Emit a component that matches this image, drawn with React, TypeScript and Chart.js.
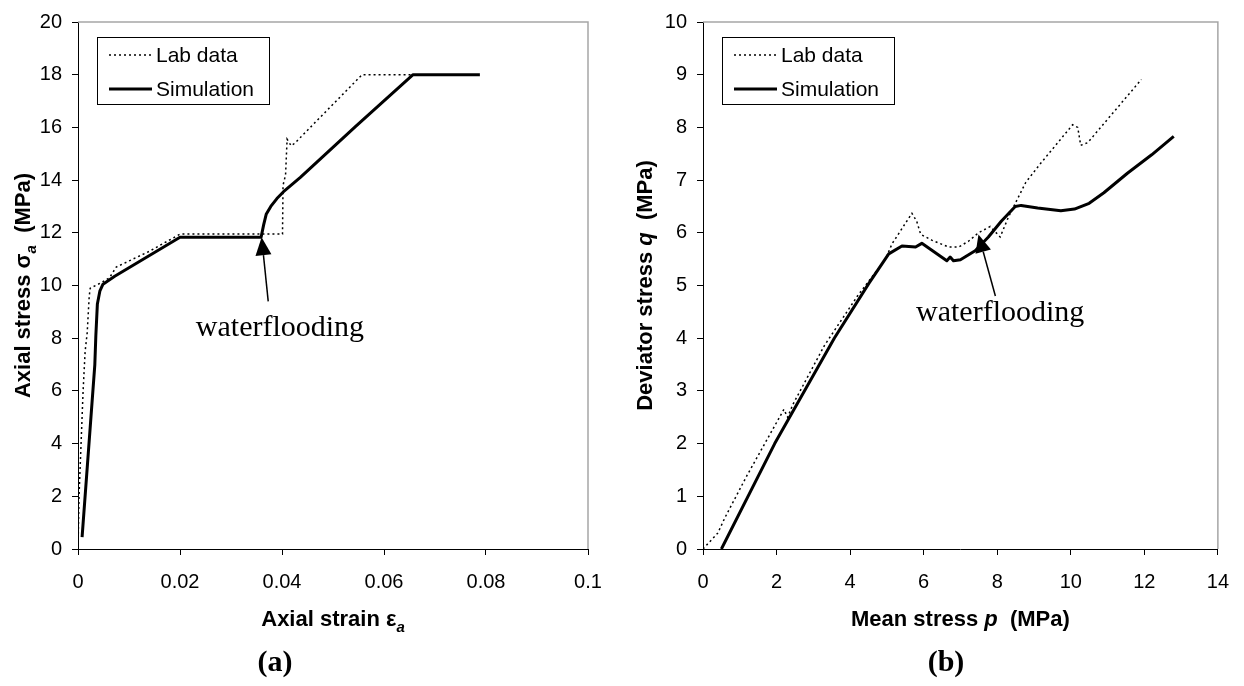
import { useEffect, useRef } from "react";
import { Chart, registerables } from "chart.js";

Chart.register(...registerables);

// ---------- Chart (a): axial stress vs axial strain ----------
const labStrainA = [0, 0.0002, 0.0006, 0.001, 0.0014, 0.0018, 0.0022, 0.0024, 0.0045, 0.0062, 0.0075, 0.014, 0.02, 0.0401, 0.0402, 0.0407, 0.041, 0.0418, 0.0425, 0.0557, 0.0657];
const labStressA = [0, 2, 4, 6, 7.5, 8.2, 9.6, 9.9, 10.1, 10.3, 10.7, 11.3, 11.95, 11.95, 13.8, 14.2, 15.55, 15.3, 15.4, 18, 18];
const simStrainA = [0.0008, 0.0033, 0.0035, 0.0038, 0.0043, 0.0049, 0.0072, 0.02, 0.0359, 0.0364, 0.0369, 0.0378, 0.039, 0.0403, 0.0436, 0.0545, 0.0657, 0.0788];
const simStressA = [0.45, 7.0, 8.1, 9.3, 9.8, 10.05, 10.35, 11.83, 11.83, 12.3, 12.7, 13.0, 13.3, 13.56, 14.1, 16.05, 18.0, 18.0];
const xTicksA = ["0", "0.02", "0.04", "0.06", "0.08", "0.1"];
const yTicksA = ["0", "2", "4", "6", "8", "10", "12", "14", "16", "18", "20"];

// ---------- Chart (b): deviator stress vs mean stress ----------
const labPB = [0, 0.4, 0.6, 1.2, 2.2, 2.3, 2.45, 3.3, 4.2, 4.96, 5.14, 5.68, 5.81, 5.92, 6.22, 6.68, 6.95, 7.22, 7.49, 7.81, 8.08, 8.3, 8.57, 8.78, 9.16, 10.05, 10.19, 10.27, 10.46, 11.92];
const labQB = [0, 0.3, 0.6, 1.4, 2.65, 2.5, 2.75, 3.86, 4.8, 5.5, 5.79, 6.37, 6.22, 5.97, 5.86, 5.73, 5.73, 5.84, 6.0, 6.12, 5.92, 6.29, 6.67, 6.96, 7.3, 8.05, 8.0, 7.66, 7.71, 8.91];
const simPB = [0.5, 1.95, 3.57, 4.51, 5.05, 5.41, 5.78, 5.95, 6.63, 6.72, 6.81, 7.0, 7.4, 7.76, 8.11, 8.49, 8.65, 9.1, 9.73, 10.1, 10.5, 10.9, 11.54, 12.2, 12.8];
const simQB = [0, 2.0, 4.0, 5.04, 5.6, 5.75, 5.73, 5.8, 5.47, 5.54, 5.47, 5.49, 5.66, 5.92, 6.22, 6.5, 6.52, 6.47, 6.42, 6.45, 6.56, 6.76, 7.13, 7.48, 7.83];
const xTicksB = ["0", "2", "4", "6", "8", "10", "12", "14"];
const yTicksB = ["0", "1", "2", "3", "4", "5", "6", "7", "8", "9", "10"];

const seriesLabels = ["Lab data", "Simulation"];
const annotationText = "waterflooding";

// annotation anchors in data units: [tipX, tipY, tailX, tailY, textX, textY]
const arrowA = [0.036, 11.83, 0.0373, 9.4, 0.0396, 8.39];
const arrowB = [7.49, 5.97, 7.95, 4.8, 8.08, 4.48];

type Seg = { t: string; italic?: boolean; sub?: boolean };
const xTitleA: Seg[] = [{ t: "Axial strain " }, { t: "ε" }, { t: "a", italic: true, sub: true }];
const yTitleA: Seg[] = [{ t: "Axial stress " }, { t: "σ" }, { t: "a", italic: true, sub: true }, { t: "  (MPa)" }];
const xTitleB: Seg[] = [{ t: "Mean stress " }, { t: "p", italic: true }, { t: "  (MPa)" }];
const yTitleB: Seg[] = [{ t: "Deviator stress " }, { t: "q", italic: true }, { t: "  (MPa)" }];

const SANS = '"Liberation Sans", Arial, sans-serif';
const SERIF = '"Liberation Serif", "Times New Roman", serif';

const zip = (xs: number[], ys: number[]) => xs.map((x, i) => ({ x, y: ys[i] }));

function segFont(s: Seg, size: number) {
  const sz = s.sub ? Math.round(size * 0.68) : size;
  return `${s.italic ? "italic " : ""}bold ${sz}px ${SANS}`;
}

function drawRich(ctx: CanvasRenderingContext2D, segs: Seg[], cx: number, cy: number, size: number, rotate: boolean) {
  ctx.save();
  ctx.translate(cx, cy);
  if (rotate) ctx.rotate(-Math.PI / 2);
  let total = 0;
  const widths = segs.map((s) => {
    ctx.font = segFont(s, size);
    const w = ctx.measureText(s.t).width;
    total += w;
    return w;
  });
  let x = -total / 2;
  ctx.fillStyle = "#000";
  ctx.textBaseline = "alphabetic";
  ctx.textAlign = "left";
  segs.forEach((s, i) => {
    ctx.font = segFont(s, size);
    ctx.fillText(s.t, x, size * 0.35 + (s.sub ? size * 0.28 : 0));
    x += widths[i];
  });
  ctx.restore();
}

const paperPlugin = {
  id: "paper",
  afterDraw(chart: any, _args: any, opts: any) {
    const { ctx, chartArea: a, scales } = chart;
    ctx.save();
    // grey top/right frame
    ctx.strokeStyle = "#a6a6a6";
    ctx.lineWidth = 1.5;
    ctx.beginPath();
    ctx.moveTo(a.left, a.top);
    ctx.lineTo(a.right, a.top);
    ctx.lineTo(a.right, a.bottom);
    ctx.stroke();

    // legend box
    const L = opts.legend;
    const lx = a.left + L.dx;
    const ly = a.top + L.dy;
    ctx.fillStyle = "#fff";
    ctx.fillRect(lx, ly, L.w, L.h);
    ctx.strokeStyle = "#000";
    ctx.lineWidth = 1;
    ctx.strokeRect(lx + 0.5, ly + 0.5, L.w, L.h);
    chart.data.datasets.forEach((ds: any, i: number) => {
      const y = ly + L.rows[i];
      ctx.setLineDash(ds.borderDash || []);
      ctx.lineWidth = ds.borderWidth;
      ctx.strokeStyle = "#000";
      ctx.beginPath();
      ctx.moveTo(lx + L.lineStart, y);
      ctx.lineTo(lx + L.lineEnd, y);
      ctx.stroke();
      ctx.setLineDash([]);
      ctx.fillStyle = "#000";
      ctx.font = `${L.fontSize}px ${SANS}`;
      ctx.textBaseline = "middle";
      ctx.textAlign = "left";
      ctx.fillText(ds.label, lx + L.textX, y + 1);
    });

    // annotation arrow
    const [tx, ty, bx, by, wx, wy] = opts.arrow;
    const X = scales.x, Y = scales.y;
    const px = X.getPixelForValue(tx), py = Y.getPixelForValue(ty);
    const qx = X.getPixelForValue(bx), qy = Y.getPixelForValue(by);
    const ang = Math.atan2(py - qy, px - qx);
    const headLen = 18, headW = 8;
    const hx = px - headLen * Math.cos(ang), hy = py - headLen * Math.sin(ang);
    ctx.strokeStyle = "#000";
    ctx.lineWidth = 1.5;
    ctx.beginPath();
    ctx.moveTo(qx, qy);
    ctx.lineTo(hx, hy);
    ctx.stroke();
    ctx.fillStyle = "#000";
    ctx.beginPath();
    ctx.moveTo(px, py);
    ctx.lineTo(hx + headW * Math.sin(ang), hy - headW * Math.cos(ang));
    ctx.lineTo(hx - headW * Math.sin(ang), hy + headW * Math.cos(ang));
    ctx.closePath();
    ctx.fill();
    ctx.font = `30px ${SERIF}`;
    ctx.textAlign = "center";
    ctx.textBaseline = "middle";
    ctx.fillText(annotationText, X.getPixelForValue(wx), Y.getPixelForValue(wy));

    // axis titles
    drawRich(ctx, opts.xTitle, (a.left + a.right) / 2, opts.xTitleY, 22, false);
    drawRich(ctx, opts.yTitle, opts.yTitleX, (a.top + a.bottom) / 2, 22, true);

    // caption
    ctx.font = `bold 30px ${SERIF}`;
    ctx.textAlign = "center";
    ctx.textBaseline = "middle";
    ctx.fillStyle = "#000";
    ctx.fillText(opts.caption, opts.captionX, opts.captionY);
    ctx.restore();
  },
};

function makeConfig(p: {
  lab: { x: number; y: number }[];
  sim: { x: number; y: number }[];
  xMax: number; xStep: number; xLabels: string[];
  yMax: number; yStep: number; yLabels: string[];
  yAxisWidth: number; padRight: number;
  xTitle: Seg[]; yTitle: Seg[]; yTitleX: number;
  arrow: number[]; caption: string; captionX: number;
}) {
  return {
    type: "scatter" as const,
    data: {
      datasets: [
        { label: seriesLabels[0], data: p.lab, showLine: true, borderColor: "#000", borderWidth: 1.5, borderDash: [2, 3], pointRadius: 0, tension: 0 },
        { label: seriesLabels[1], data: p.sim, showLine: true, borderColor: "#000", borderWidth: 3, pointRadius: 0, tension: 0, borderJoinStyle: "round" as const },
      ],
    },
    options: {
      animation: false as const,
      responsive: false,
      devicePixelRatio: 1,
      layout: { padding: { top: 15, right: p.padRight, left: 0, bottom: 0 } },
      plugins: {
        legend: { display: false },
        tooltip: { enabled: false },
        paper: {
          legend: { dx: 19, dy: 15, w: 172, h: 67, rows: [18, 52], lineStart: 12, lineEnd: 55, textX: 59, fontSize: 21 },
          arrow: p.arrow,
          xTitle: p.xTitle,
          yTitle: p.yTitle,
          xTitleY: 618,
          yTitleX: p.yTitleX,
          caption: p.caption,
          captionX: p.captionX,
          captionY: 663,
        },
      },
      scales: {
        x: {
          type: "linear" as const,
          min: 0,
          max: p.xMax,
          afterFit: (s: any) => { s.height = 137; },
          border: { display: true, color: "#000", width: 1 },
          grid: { display: true, drawOnChartArea: false, drawTicks: true, tickLength: 6, color: "#000" },
          ticks: {
            stepSize: p.xStep,
            padding: 15,
            color: "#000",
            font: { family: SANS, size: 20 },
            maxRotation: 0,
            autoSkip: false,
            callback: (_v: any, i: number) => p.xLabels[i],
          },
        },
        y: {
          type: "linear" as const,
          min: 0,
          max: p.yMax,
          afterFit: (s: any) => { s.width = p.yAxisWidth; },
          border: { display: true, color: "#000", width: 1 },
          grid: { display: true, drawOnChartArea: false, drawTicks: true, tickLength: 6, color: "#000" },
          ticks: {
            stepSize: p.yStep,
            padding: 10,
            color: "#000",
            font: { family: SANS, size: 20 },
            autoSkip: false,
            callback: (_v: any, i: number) => p.yLabels[i],
          },
        },
      },
    },
    plugins: [paperPlugin],
  };
}

function Panel(props: { config: any; left: number; width: number }) {
  const ref = useRef<HTMLCanvasElement | null>(null);
  useEffect(() => {
    if (!ref.current) return;
    const chart = new Chart(ref.current, props.config);
    return () => chart.destroy();
  }, []);
  return (
    <canvas
      ref={ref}
      width={props.width}
      height={686}
      style={{ position: "absolute", left: props.left, top: 0, width: props.width, height: 686 }}
    />
  );
}

export default function App() {
  const cfgA = makeConfig({
    lab: zip(labStrainA, labStressA),
    sim: zip(simStrainA, simStressA),
    xMax: 0.1, xStep: 0.02, xLabels: xTicksA,
    yMax: 20, yStep: 2, yLabels: yTicksA,
    yAxisWidth: 78, padRight: 32,
    xTitle: xTitleA, yTitle: yTitleA, yTitleX: 22,
    arrow: arrowA, caption: "(a)", captionX: 275,
  });
  const cfgB = makeConfig({
    lab: zip(labPB, labQB),
    sim: zip(simPB, simQB),
    xMax: 14, xStep: 2, xLabels: xTicksB,
    yMax: 10, yStep: 1, yLabels: yTicksB,
    yAxisWidth: 83, padRight: 23,
    xTitle: xTitleB, yTitle: yTitleB, yTitleX: 24,
    arrow: arrowB, caption: "(b)", captionX: 326,
  });
  return (
    <div style={{ position: "fixed", left: 0, top: 0, width: 1244, height: 686, background: "#fff", overflow: "hidden" }}>
      <Panel config={cfgA} left={0} width={620} />
      <Panel config={cfgB} left={620} width={624} />
    </div>
  );
}
